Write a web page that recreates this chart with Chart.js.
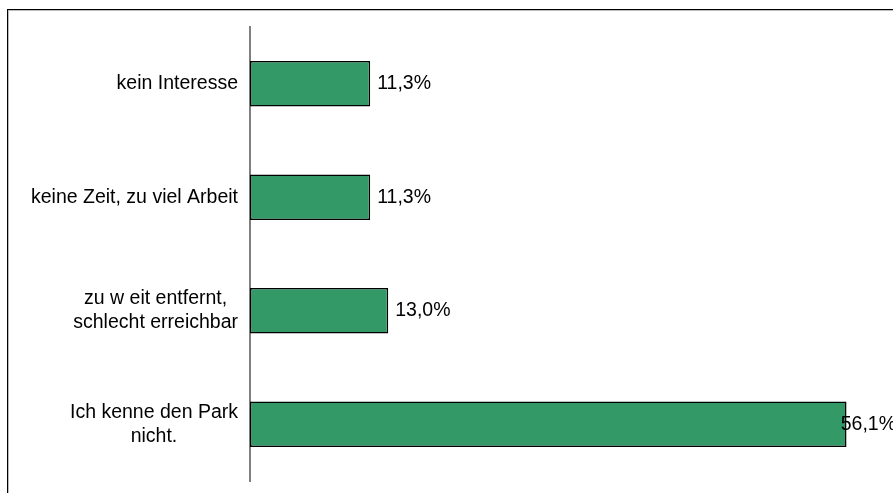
<!DOCTYPE html>
<html>
<head>
<meta charset="utf-8">
<script src="https://cdn.jsdelivr.net/npm/chart.js@4.4.1/dist/chart.umd.min.js"></script>
<style>
  html, body { margin: 0; padding: 0; background: #fff; overflow: hidden; }
  #wrap { position: relative; width: 893px; height: 493px; }
  #frame { position: absolute; left: 7px; top: 9px; right: -20px; bottom: -20px;
           border-top: 1px solid #000; border-left: 1px solid #000;
           box-shadow: inset 1px 1px 0 #bbb; }
  canvas { position: absolute; left: 0; top: 0; }
</style>
</head>
<body>
<div id="wrap">
  <div id="frame"></div>
  <canvas id="chart" width="893" height="493"></canvas>
</div>
<script>
// Gründe, den Park nicht zu besuchen (Anteile in %)
const categories = [
  "kein Interesse",
  "keine Zeit, zu viel Arbeit",
  ["zu w eit entfernt,", "schlecht erreichbar"],
  ["Ich kenne den Park", "nicht."]
];
const shares = [11.3, 11.3, 13.0, 56.1];

const FONT = '19.5px "Liberation Sans", Arial, sans-serif';
const LINE_H = 24;

const fmt = (v) => v.toFixed(1).replace(".", ",") + "%";

// category labels: lines centred on each other, block right-aligned at the axis
const categoryLabels = {
  id: "categoryLabels",
  afterDraw(chart) {
    const ctx = chart.ctx;
    const yScale = chart.scales.y;
    const right = chart.chartArea.left - 12;
    ctx.save();
    ctx.font = FONT;
    ctx.fillStyle = "#000";
    ctx.textAlign = "center";
    ctx.textBaseline = "middle";
    categories.forEach((label, i) => {
      const lines = Array.isArray(label) ? label : [label];
      const w = Math.max(...lines.map((l) => ctx.measureText(l).width));
      const cx = right - w / 2;
      const cy = yScale.getPixelForValue(i);
      const top = cy - ((lines.length - 1) * LINE_H) / 2;
      lines.forEach((l, j) => ctx.fillText(l, cx, top + j * LINE_H));
    });
    ctx.restore();
  }
};

// value text beside each bar, kept inside the plot
const valueLabels = {
  id: "valueLabels",
  afterDatasetsDraw(chart) {
    const ctx = chart.ctx;
    const meta = chart.getDatasetMeta(0);
    const limit = chart.chartArea.right + 8;
    ctx.save();
    ctx.font = FONT;
    ctx.fillStyle = "#000";
    ctx.textAlign = "left";
    ctx.textBaseline = "middle";
    meta.data.forEach((bar, i) => {
      const txt = fmt(shares[i]);
      const w = ctx.measureText(txt).width;
      const x = Math.min(bar.x + 7, limit - w);
      ctx.fillText(txt, x, bar.y);
    });
    ctx.restore();
  }
};

new Chart(document.getElementById("chart"), {
  type: "bar",
  data: {
    labels: categories,
    datasets: [{
      data: shares,
      backgroundColor: "#339966",
      borderColor: "#000",
      borderWidth: 1.5,
      borderSkipped: false,
      barPercentage: 0.4,
      categoryPercentage: 1
    }]
  },
  options: {
    indexAxis: "y",
    responsive: false,
    animation: false,
    events: [],
    layout: { padding: { top: 27, bottom: 12, left: 250, right: 5 } },
    scales: {
      x: { display: false, min: 0, max: 60 },
      y: {
        display: true,
        grid: { display: false, drawTicks: false },
        ticks: { display: false },
        border: { display: true, color: "#808080", width: 2 },
        afterFit: (scale) => { scale.width = 0; }
      }
    },
    plugins: {
      legend: { display: false },
      tooltip: { enabled: false }
    }
  },
  plugins: [categoryLabels, valueLabels]
});
</script>
</body>
</html>
